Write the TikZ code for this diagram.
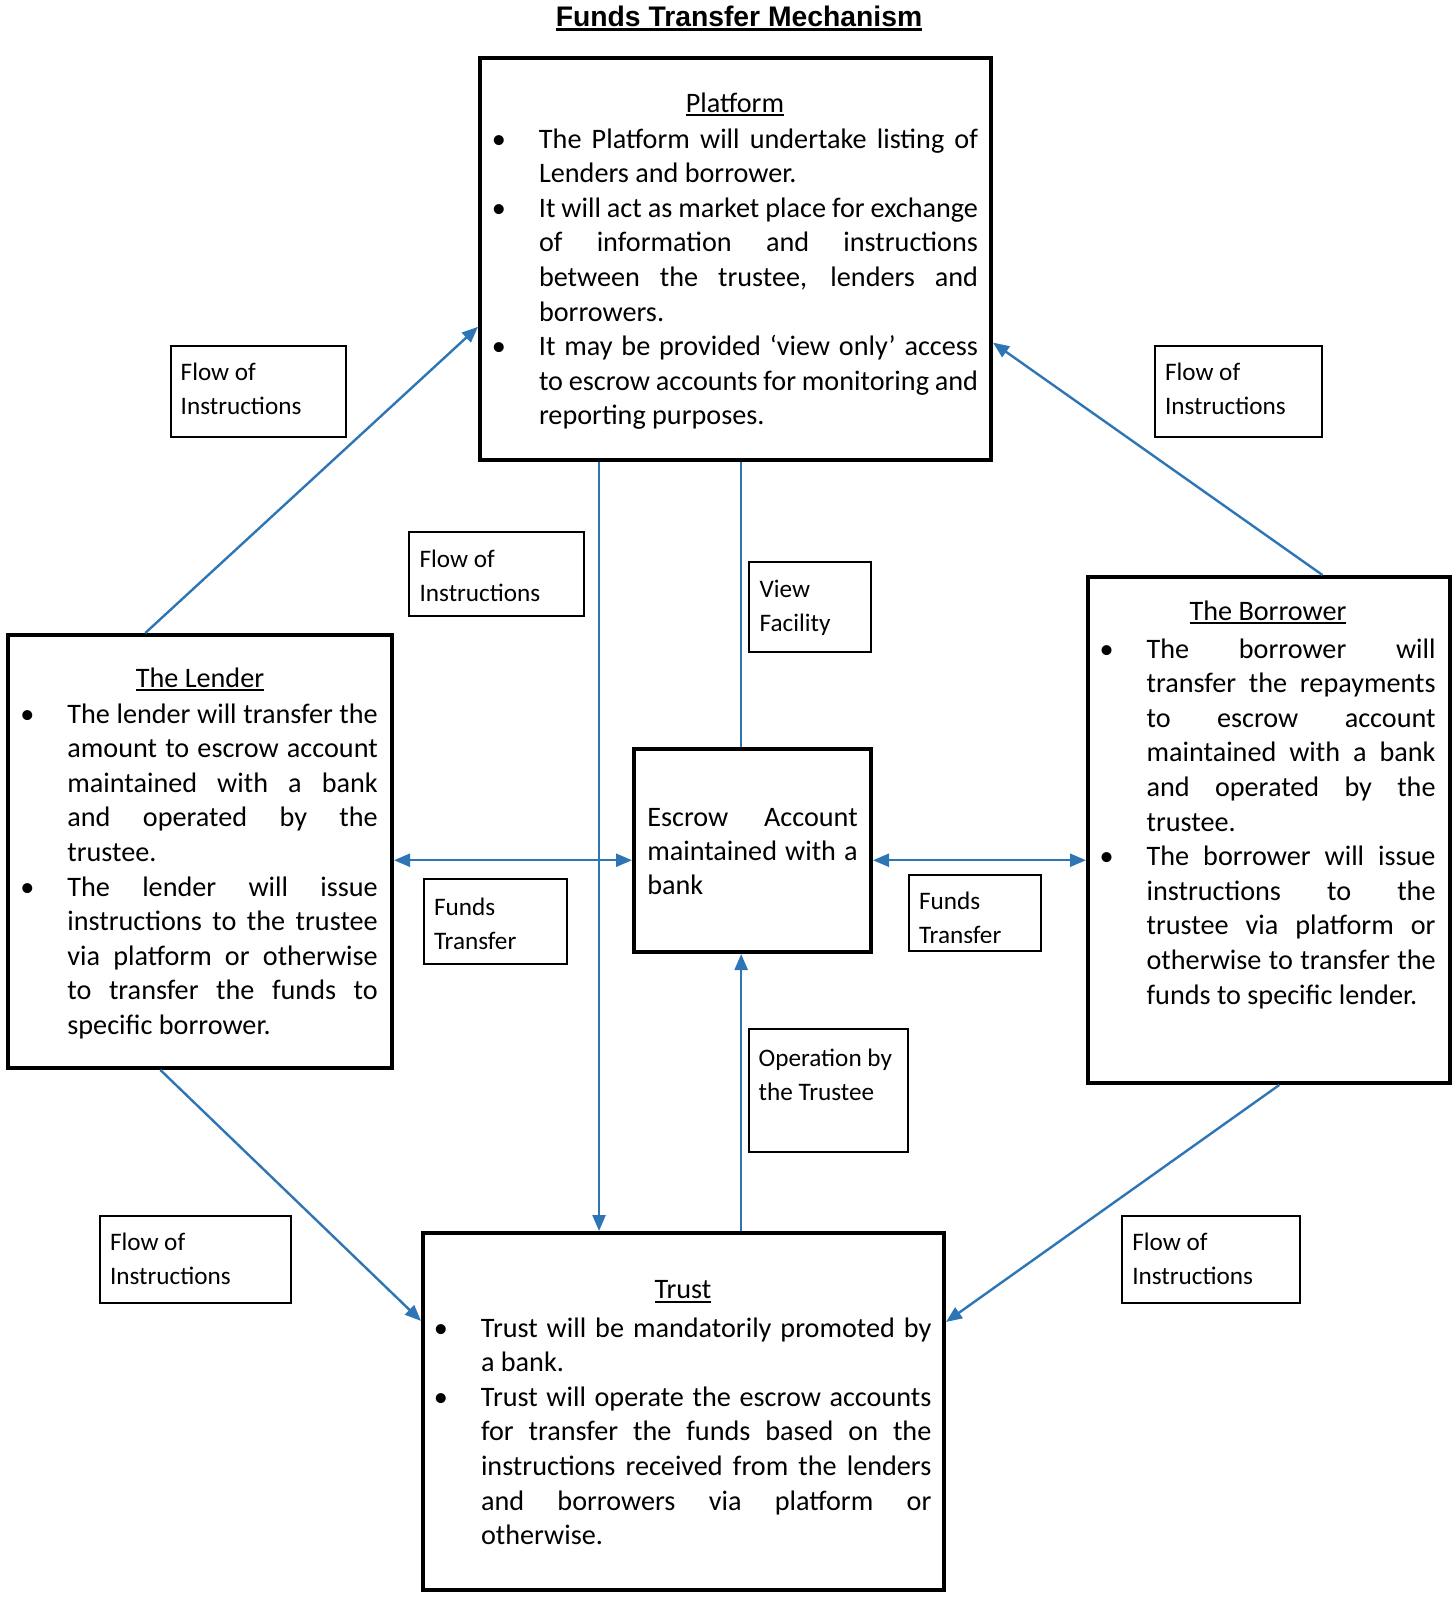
\documentclass[tikz,border=0pt]{standalone}
\usepackage{fontspec}
\setmainfont{Carlito}
\newfontfamily\titlefont{Liberation Sans}
\usetikzlibrary{arrows.meta,calc}
\definecolor{arrblue}{HTML}{2E75B6}
\hbadness=10000
\hfuzz=20pt
\newcommand\bodyfont{\fontsize{14.1pt}{17.3pt}\selectfont}
\newcommand\labfont{\fontsize{12.6pt}{17pt}\selectfont}
\newcommand\jline[1]{\hbox to \hsize{#1}}
\newcommand\lline[1]{\hbox{#1}}
\newcommand\bul{\llap{\textbullet\hspace{16.5pt}}}
\newcommand\col[2]{\vtop{\hsize=#1\relax\bodyfont #2}}
\newcommand\labcol[1]{\vtop{\hsize=100pt\relax\labfont #1}}
\newcommand\myul[3]{\setbox0\hbox{#1}\rlap{\rule[-#2]{\wd0}{#3}}\box0}
\begin{document}
\begin{tikzpicture}[x=0.5pt,y=-0.5pt,
  mainbox/.style={draw=black,line width=2pt,rectangle,inner sep=0pt},
  labbox/.style={draw=black,line width=0.65pt,rectangle,inner sep=0pt},
  txt/.style={anchor=base west,inner sep=0pt,outer sep=0pt},
  head/.style={anchor=base,inner sep=0pt,font=\bodyfont},
  arr/.style={draw=arrblue,line width=1.2pt,-{Triangle[length=8pt,width=6.5pt]}},
  arrtwo/.style={draw=arrblue,line width=1.2pt,{Triangle[length=8pt,width=6.5pt]}-{Triangle[length=8pt,width=6.5pt]}},
  plain/.style={draw=arrblue,line width=1.2pt}]
\useasboundingbox (0,0) rectangle (1456,1601);

% title
\node[anchor=base,inner sep=0pt] (title) at (739,26) {\titlefont\bfseries\fontsize{14.15pt}{17pt}\selectfont\myul{Funds Transfer Mechanism}{2.6pt}{1.5pt}};

% main boxes
\node[mainbox,minimum width=255.5pt,minimum height=201pt] (platform) at (735.5,259) {};
\node[mainbox,minimum width=192pt,minimum height=216.5pt] (lender) at (200,851.5) {};
\node[mainbox,minimum width=181pt,minimum height=253pt] (borrower) at (1269,830) {};
\node[mainbox,minimum width=118.5pt,minimum height=101.5pt] (escrow) at (752.5,850.5) {};
\node[mainbox,minimum width=260.5pt,minimum height=178.5pt] (trust) at (683.5,1411.5) {};

% headings
\node[head] (hplat) at (735,112) {\myul{Platform}{2.2pt}{1pt}};
\node[head] (hlend) at (200,687) {\myul{The Lender}{2.2pt}{1pt}};
\node[head] (hborr) at (1268,620) {\myul{The Borrower}{2.2pt}{1pt}};
\node[head] (htrust) at (683,1298.5) {\myul{Trust}{2.2pt}{1pt}};

% platform text
\node[txt] (tplat) at (539,148) {\col{219.5pt}{%
\jline{\bul The Platform will undertake listing of}
\lline{Lenders and borrower.}
\jline{\bul It will act as market place for exchange}
\jline{of information and instructions}
\jline{between the trustee, lenders and}
\lline{borrowers.}
\jline{\bul It may be provided ‘view only’ access}
\jline{to escrow accounts for monitoring and}
\lline{reporting purposes.}}};

% lender text
\node[txt] (tlend) at (67.4,723) {\col{155.2pt}{%
\jline{\bul The lender will transfer the}
\jline{amount to escrow account}
\jline{maintained with a bank}
\jline{and operated by the}
\lline{trustee.}
\jline{\bul The lender will issue}
\jline{instructions to the trustee}
\jline{via platform or otherwise}
\jline{to transfer the funds to}
\lline{specific borrower.}}};

% borrower text
\node[txt] (tborr) at (1146.6,658) {\col{144.5pt}{%
\jline{\bul The borrower will}
\jline{transfer the repayments}
\jline{to escrow account}
\jline{maintained with a bank}
\jline{and operated by the}
\lline{trustee.}
\jline{\bul The borrower will issue}
\jline{instructions to the}
\jline{trustee via platform or}
\jline{otherwise to transfer the}
\lline{funds to specific lender.}}};

% escrow text
\node[txt] (tesc) at (647.3,826) {\vtop{\hsize=105.2pt\fontsize{14.1pt}{17.1pt}\selectfont
\jline{Escrow Account}
\jline{maintained with a}
\lline{bank}}};

% trust text
\node[txt] (ttrust) at (481,1337) {\col{225.2pt}{%
\jline{\bul Trust will be mandatorily promoted by}
\lline{a bank.}
\jline{\bul Trust will operate the escrow accounts}
\jline{for transfer the funds based on the}
\jline{instructions received from the lenders}
\jline{and borrowers via platform or}
\lline{otherwise.}}};

% label boxes
\node[labbox,minimum width=87.5pt,minimum height=45.5pt] (l1) at (258.5,391.5) {};
\node[labbox,minimum width=83.5pt,minimum height=45.5pt] (l2) at (1238.5,391.5) {};
\node[labbox,minimum width=87.5pt,minimum height=42pt] (l3) at (496.5,574) {};
\node[labbox,minimum width=61pt,minimum height=45pt] (l4) at (810,607) {};
\node[labbox,minimum width=71.5pt,minimum height=42.5pt] (l5) at (495.5,921.5) {};
\node[labbox,minimum width=66pt,minimum height=38pt] (l6) at (975,913) {};
\node[labbox,minimum width=79.5pt,minimum height=61.5pt] (l7) at (828.5,1090.5) {};
\node[labbox,minimum width=95.5pt,minimum height=43.5pt] (l8) at (195.5,1259.5) {};
\node[labbox,minimum width=89pt,minimum height=43.5pt] (l9) at (1211,1259.5) {};

\node[txt] (t1) at (180.7,380) {\labcol{\lline{Flow of}\lline{Instructions}}};
\node[txt] (t2) at (1165,380) {\labcol{\lline{Flow of}\lline{Instructions}}};
\node[txt] (t3) at (419.6,567.5) {\labcol{\lline{Flow of}\lline{Instructions}}};
\node[txt] (t4) at (759.6,597) {\labcol{\lline{View}\lline{Facility}}};
\node[txt] (t5) at (434,915) {\labcol{\lline{Funds}\lline{Transfer}}};
\begin{scope}
\clip (909,875) rectangle (1041,942.5);
\node[txt] (t6) at (919,909.5) {\labcol{\lline{Funds}\lline{Transfer}}};
\end{scope}
\node[txt] (t7) at (758.6,1066) {\labcol{\lline{Operation by}\lline{the Trustee}}};
\node[txt] (t8) at (110,1250.5) {\labcol{\lline{Flow of}\lline{Instructions}}};
\node[txt] (t9) at (1132.3,1250.5) {\labcol{\lline{Flow of}\lline{Instructions}}};

% connectors
\draw[arr] ($(lender.north west)!0.359!(lender.north east)$) -- ($(platform.north west)!0.667!(platform.south west)$);
\draw[arr] ($(borrower.north west)!0.646!(borrower.north east)$) -- ($(platform.north east)!0.706!(platform.south east)$);
\draw[arr] ($(lender.south west)!0.398!(lender.south east)$) -- ($(trust.north west)!0.249!(trust.south west)$);
\draw[arr] ($(borrower.south west)!0.528!(borrower.south east)$) -- ($(trust.north east)!0.252!(trust.south east)$);
\path ($(platform.south west)!0.235!(platform.south east)$) coordinate (e1);
\draw[arr] (e1) -- (e1 |- trust.north);
\path ($(platform.south west)!0.511!(platform.south east)$) coordinate (f1);
\draw[plain] (f1) -- (f1 |- escrow.north);
\draw[arr] (f1 |- trust.north) -- (f1 |- escrow.south);
\path ($(escrow.north west)!0.547!(escrow.south west)$) coordinate (h1);
\draw[arrtwo] (h1 -| lender.east) -- (h1);
\draw[arrtwo] (h1 -| escrow.east) -- (h1 -| borrower.west);
\end{tikzpicture}
\end{document}
